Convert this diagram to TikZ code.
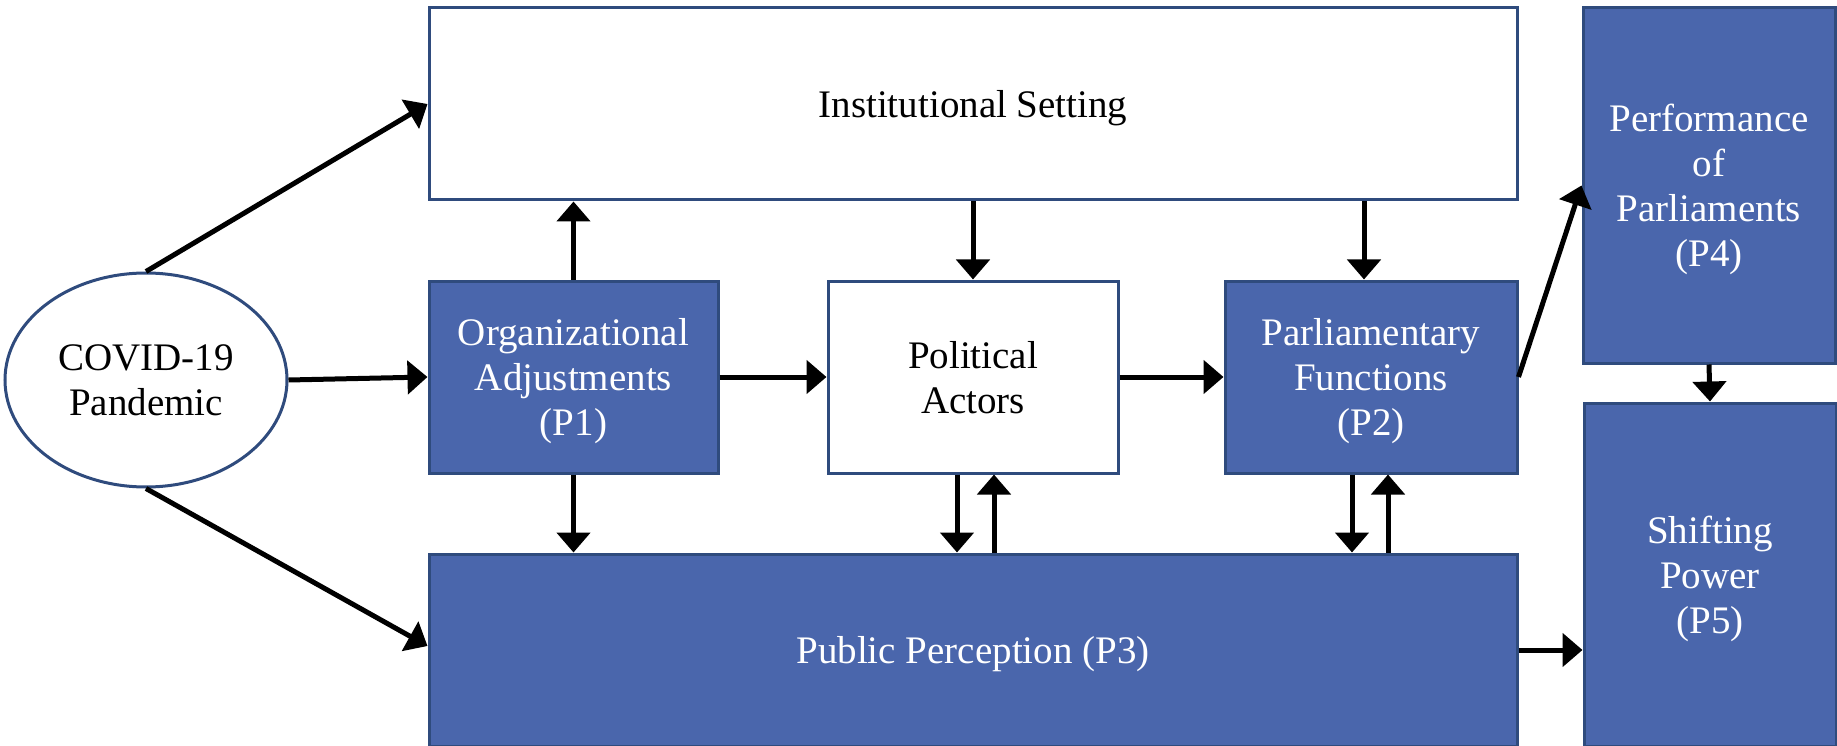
\documentclass[tikz,border=0pt]{standalone}
\usepackage{fontspec}
\setmainfont{Liberation Serif}
\usetikzlibrary{arrows.meta,shapes.geometric,calc}
\definecolor{boxblue}{RGB}{74,102,172}
\definecolor{edgeblue}{RGB}{47,75,125}
\begin{document}
\begin{tikzpicture}[x=1pt,y=-1pt,
  base/.style={draw=edgeblue, line width=3pt, inner sep=0pt, align=center,
    text depth=0pt, font=\fontsize{39}{45}\selectfont},
  whitebox/.style={base, rectangle, fill=white, text=black},
  bluebox/.style={base, rectangle, fill=boxblue, text=white},
  ellbox/.style={base, ellipse, fill=white, text=black},
  arr/.style={line width=5pt, -{Triangle[length=20pt,width=33pt]}}]
\useasboundingbox (0,0) rectangle (1837,746);
\node[ellbox, minimum width=282pt, minimum height=214pt] (ell) at (146,380) {COVID-19\\Pandemic};
\node[whitebox, minimum width=1088pt, minimum height=192pt, text depth=-3pt] (inst) at (973,104) {Institutional Setting};
\node[bluebox, minimum width=289pt, minimum height=192pt] (org) at (573.5,377) {Organizational\\Adjustments\\(P1)};
\node[whitebox, minimum width=290pt, minimum height=192pt] (pa) at (973,377) {Political\\Actors};
\node[bluebox, minimum width=292pt, minimum height=192pt] (p2) at (1371,377) {Parliamentary\\Functions\\(P2)};
\node[bluebox, minimum width=1088pt, minimum height=192pt] (pp) at (973,650) {Public Perception (P3)};
\node[bluebox, minimum width=252pt, minimum height=355pt] (p4) at (1709,185.5) {Performance\\of\\Parliaments\\(P4)};
\node[bluebox, minimum width=252pt, minimum height=343pt, text depth=-5pt] (p5) at (1710,574.5) {Shifting\\Power\\(P5)};
% connectors
\draw[arr] (ell.north) -- (inst.west);
\draw[arr] (ell.east) -- (org.west);
\draw[arr] (ell.south) -- ([yshift=4pt]pp.west);
\draw[arr] (org.north) -- (org.north |- inst.south);
\draw[arr] (org.south) -- (org.south |- pp.north);
\draw[arr] (org.east) -- (pa.west);
\draw[arr] (pa.east) -- (p2.west);
\draw[arr] (pa.north |- inst.south) -- (pa.north);
\draw[arr] ([xshift=-7pt]p2.north |- inst.south) -- ([xshift=-7pt]p2.north);
\draw[arr] ([xshift=-16pt]pa.south) -- ([xshift=-16pt]pa.south |- pp.north);
\draw[arr] ([xshift=21pt]pa.south |- pp.north) -- ([xshift=21pt]pa.south);
\draw[arr] ([xshift=-19pt]p2.south) -- ([xshift=-19pt]p2.south |- pp.north);
\draw[arr] ([xshift=17pt]p2.south |- pp.north) -- ([xshift=17pt]p2.south);
\draw[arr] (p2.east) -- (p4.west);
\draw[arr] (p4.south) -- (p5.north);
\draw[arr] (pp.east) -- (p5.west |- pp.east);
\end{tikzpicture}
\end{document}
